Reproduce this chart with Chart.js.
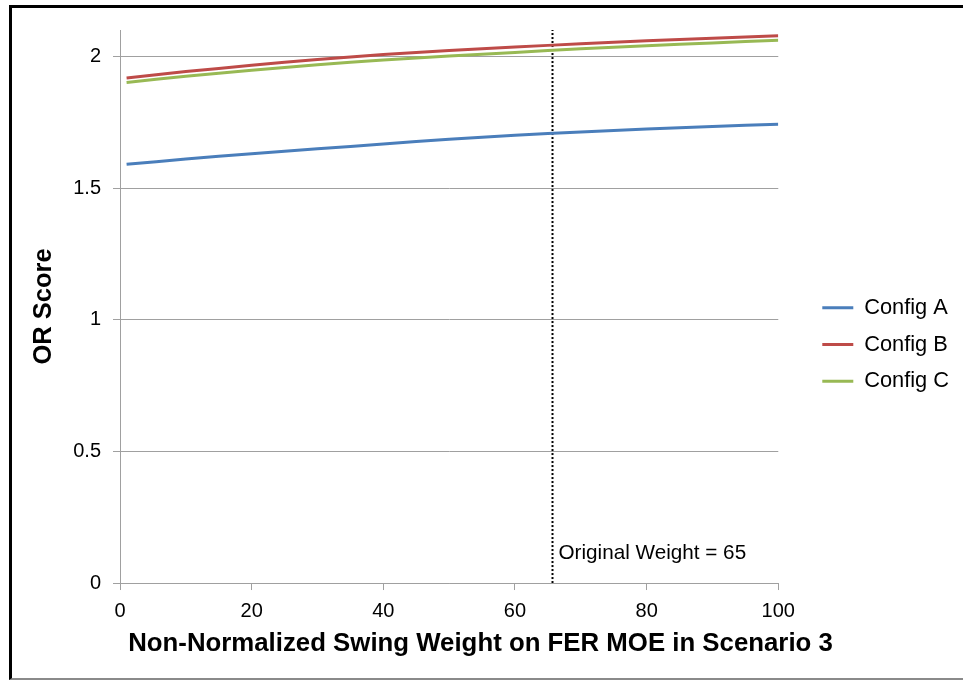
<!DOCTYPE html>
<html><head><meta charset="utf-8">
<script src="https://cdn.jsdelivr.net/npm/chart.js@4.4.0/dist/chart.umd.min.js"></script>
<style>
html,body{margin:0;padding:0;background:#fff;width:963px;height:681px;overflow:hidden;}
#frame{position:absolute;left:9px;top:5px;width:954px;height:675px;box-sizing:border-box;border-left:3px solid #000;border-top:3px solid #000;border-bottom:2px solid #8a8a8a;}
#c{position:absolute;left:0;top:0;}
</style></head><body>
<div id="frame"></div>
<canvas id="c" width="963" height="681"></canvas>
<script>
// ---- data ----
const xValues = [1, 10, 20, 30, 40, 50, 60, 70, 80, 90, 100];
const configA = [1.590, 1.610, 1.630, 1.649, 1.667, 1.685, 1.700, 1.713, 1.724, 1.734, 1.742];
const configB = [1.918, 1.942, 1.966, 1.988, 2.007, 2.022, 2.035, 2.048, 2.059, 2.069, 2.078];
const configC = [1.901, 1.924, 1.947, 1.968, 1.986, 2.001, 2.015, 2.029, 2.040, 2.051, 2.061];
const seriesNames = ['Config A', 'Config B', 'Config C'];
const markerX = 65.7;
const markerLabel = 'Original Weight = 65';
const markerLabelY = 0.114;
const xTitle = 'Non-Normalized Swing Weight on FER MOE in Scenario 3';
const yTitle = 'OR Score';

const colors = ['#4A7EBB', '#BE4B48', '#98B954'];
const FONT = "'Liberation Sans', Arial, sans-serif";
const toPts = arr => arr.map((v, i) => ({x: xValues[i], y: v}));

const annotationText = {
  id: 'annotationText',
  afterDatasetsDraw(chart) {
    const ctx = chart.ctx;
    const xs = chart.scales.x, ys = chart.scales.y;
    ctx.save();
    ctx.font = '20.7px ' + FONT;
    ctx.fillStyle = '#000';
    ctx.textAlign = 'left';
    ctx.textBaseline = 'middle';
    ctx.fillText(markerLabel, xs.getPixelForValue(markerX) + 6, ys.getPixelForValue(markerLabelY));
    ctx.restore();
  }
};

const seriesDs = (i, arr) => ({
  label: seriesNames[i], data: toPts(arr),
  borderColor: colors[i], backgroundColor: colors[i], borderWidth: 3,
  pointStyle: 'line'
});

new Chart(document.getElementById('c'), {
  type: 'line',
  data: {
    datasets: [
      seriesDs(0, configA),
      seriesDs(1, configB),
      seriesDs(2, configC),
      {label: 'marker', data: [{x: markerX, y: 0}, {x: markerX, y: 2.1}], borderColor: '#000', borderWidth: 2, borderDash: [2, 2], tension: 0}
    ]
  },
  options: {
    responsive: false,
    animation: false,
    devicePixelRatio: 1,
    layout: {padding: {left: 2, right: 4, top: 30, bottom: 22}},
    elements: {
      line: {borderWidth: 3, tension: 0.3, fill: false},
      point: {radius: 0, hoverRadius: 0}
    },
    plugins: {
      tooltip: {enabled: false},
      title: {
        display: true,
        position: 'bottom',
        text: xTitle,
        color: '#000',
        font: {family: FONT, size: 25.8, weight: 'bold', lineHeight: 1.2},
        padding: {top: 0, bottom: 0}
      },
      legend: {
        position: 'right',
        align: 'center',
        labels: {
          usePointStyle: true,
          pointStyle: 'line',
          pointStyleWidth: 31,
          padding: 15,
          color: '#000',
          font: {family: FONT, size: 21.8},
          filter: item => item.datasetIndex < 3
        }
      }
    },
    scales: {
      x: {
        type: 'linear',
        min: 0, max: 100,
        ticks: {stepSize: 20, color: '#000', font: {family: FONT, size: 20}, padding: 9, maxRotation: 0},
        grid: {drawOnChartArea: false, drawTicks: true, tickLength: 7, color: '#a0a0a0'},
        border: {color: '#a0a0a0'},
        afterFit(s) { s.height = 45; }
      },
      y: {
        type: 'linear',
        min: 0, max: 2.1,
        ticks: {stepSize: 0.5, includeBounds: false, color: '#000', font: {family: FONT, size: 20}, padding: 12,
                callback: v => String(Number(v.toFixed(2)))},
        grid: {color: '#a0a0a0', drawTicks: true, tickLength: 7},
        border: {color: '#a0a0a0'},
        title: {display: true, text: yTitle, color: '#000', font: {family: FONT, size: 25.5, weight: 'bold'}, padding: {top: 27, bottom: 0}},
        afterFit(s) { s.width = 118; }
      },
      gap: {
        type: 'linear',
        position: 'right',
        display: true,
        grid: {display: false, drawTicks: false},
        border: {display: false},
        ticks: {display: false},
        afterFit(s) { s.width = 29; }
      }
    }
  },
  plugins: [annotationText]
});
</script>
</body></html>
